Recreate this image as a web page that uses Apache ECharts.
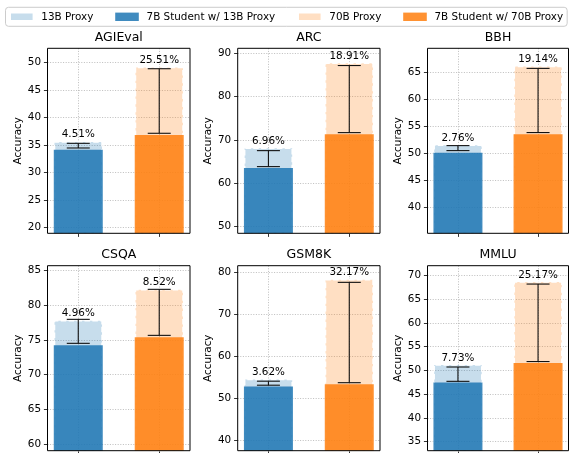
<!DOCTYPE html>
<html><head><meta charset="utf-8">
<script src="https://cdn.jsdelivr.net/npm/echarts@6/dist/echarts.min.js"></script>
<style>html,body{margin:0;padding:0;background:#fff}#c{width:571px;height:453px}</style>
</head><body><div id="c"></div>
<script>
// ---- data ----
const tasks = ['AGIEval', 'ARC', 'BBH', 'CSQA', 'GSM8K', 'MMLU'];
const proxy13 = [35.7, 68.23, 51.62, 77.9, 54.62, 51.29];
const student13 = [34.15, 63.53, 50.12, 74.23, 52.79, 47.44];
const err13Low = [34.45, 63.84, 50.5, 74.52, 53.1, 47.7];
const err13High = [35.3, 67.53, 51.43, 77.98, 54.06, 50.72];
const proxy70 = [49.27, 87.87, 66.3, 82.36, 78.49, 68.78];
const student70 = [36.82, 71.31, 53.54, 75.38, 53.35, 51.58];
const err70Low = [37.13, 71.69, 53.86, 75.67, 53.7, 51.87];
const err70High = [48.9, 87.18, 65.81, 82.31, 77.69, 68.2];
const gain13 = ['4.51%', '6.96%', '2.76%', '4.96%', '3.62%', '7.73%'];
const gain70 = ['25.51%', '18.91%', '19.14%', '8.52%', '32.17%', '25.17%'];
const yMin = [18.9, 48.44, 35.1, 59.03, 37.44, 33.08];
const yMax = [52.62, 91.16, 69.55, 85.72, 81.67, 72.07];
const yTicks = [
  [20, 25, 30, 35, 40, 45, 50],
  [50, 60, 70, 80, 90],
  [40, 45, 50, 55, 60, 65],
  [60, 65, 70, 75, 80, 85],
  [40, 50, 60, 70, 80],
  [35, 40, 45, 50, 55, 60, 65, 70]
];
const xPositions = [0, 1];
const seriesNames = ['13B Proxy', '7B Student w/ 13B Proxy', '70B Proxy', '7B Student w/ 70B Proxy'];

// ---- layout / style ----
const colLeft = [47.5, 237.7, 427.5];
const colWidth = [142.5, 142.3, 141];
const rowTop = [48.3, 265.7];
const plotH = 185;
const FONT = 'DejaVu Sans';
const C_P13 = 'rgba(31,119,180,0.25)';
const C_S13 = 'rgba(31,119,180,0.85)';
const C_P70 = 'rgba(255,127,14,0.25)';
const C_S70 = 'rgba(255,127,14,0.85)';
const gridLine = { show: true, lineStyle: { color: '#acacac', width: 0.8, type: [1, 1.6] } };

const chart = echarts.init(document.getElementById('c'), null, { renderer: 'canvas' });

const grids = [], xAxes = [], yAxes = [], titles = [], series = [];
tasks.forEach((t, i) => {
  const r = Math.floor(i / 3), c = i % 3;
  grids.push({ left: colLeft[c], top: rowTop[r], width: colWidth[c], height: plotH,
    show: true, z: 10, backgroundColor: 'transparent', borderColor: '#000', borderWidth: 1 });
  titles.push({ text: t, left: colLeft[c] + colWidth[c] / 2, top: rowTop[r] - 17.5, textAlign: 'center', padding: 0,
    textStyle: { fontSize: 12.5, fontWeight: 'normal', color: '#000', fontFamily: FONT } });
  xAxes.push({ type: 'value', gridIndex: i, min: -0.38, max: 1.38, position: 'bottom',
    axisLine: { show: false, onZero: false },
    axisTick: { show: true, customValues: xPositions, length: 3.6, lineStyle: { color: '#000', width: 0.8 } },
    axisLabel: { show: false, customValues: xPositions },
    splitLine: gridLine });
  yAxes.push({ type: 'value', gridIndex: i, min: yMin[i], max: yMax[i], position: 'left',
    name: 'Accuracy', nameLocation: 'middle', nameGap: 24,
    nameTextStyle: { fontSize: 10.4, color: '#000', fontFamily: FONT },
    axisLine: { show: false, onZero: false },
    axisTick: { show: true, customValues: yTicks[i], length: 3.6, lineStyle: { color: '#000', width: 0.8 } },
    axisLabel: { show: true, customValues: yTicks[i], margin: 6.5, fontSize: 10.4, color: '#000', fontFamily: FONT },
    splitLine: gridLine });

  const lbl = (txt) => ({ show: true, position: 'top', distance: 1.5, formatter: () => txt,
    fontSize: 10.4, color: '#000', fontFamily: FONT });
  const proxyStyle = (col) => ({ color: col, borderColor: '#fff', borderWidth: 1.5, borderType: [5.5, 2.4] });
  series.push({ type: 'bar', name: seriesNames[0], xAxisIndex: i, yAxisIndex: i, barWidth: 49, barGap: '-100%',
    data: [[xPositions[0], proxy13[i]]], itemStyle: proxyStyle(C_P13), label: lbl(gain13[i]), clip: true });
  series.push({ type: 'bar', name: seriesNames[1], xAxisIndex: i, yAxisIndex: i, barWidth: 49, barGap: '-100%',
    data: [[xPositions[0], student13[i]]], itemStyle: { color: C_S13 }, clip: true });
  series.push({ type: 'bar', name: seriesNames[2], xAxisIndex: i, yAxisIndex: i, barWidth: 49, barGap: '-100%',
    data: [[xPositions[1], proxy70[i]]], itemStyle: proxyStyle(C_P70), label: lbl(gain70[i]), clip: true });
  series.push({ type: 'bar', name: seriesNames[3], xAxisIndex: i, yAxisIndex: i, barWidth: 49, barGap: '-100%',
    data: [[xPositions[1], student70[i]]], itemStyle: { color: C_S70 }, clip: true });
  series.push({ type: 'custom', xAxisIndex: i, yAxisIndex: i, z: 5, silent: true,
    data: [[xPositions[0], err13Low[i], err13High[i]], [xPositions[1], err70Low[i], err70High[i]]],
    renderItem: (params, api) => {
      const x = api.value(0);
      const pLo = api.coord([x, api.value(1)]);
      const pHi = api.coord([x, api.value(2)]);
      const cap = 11.5;
      const st = { stroke: '#111', lineWidth: 1.1 };
      return { type: 'group', children: [
        { type: 'line', shape: { x1: pLo[0], y1: pLo[1], x2: pHi[0], y2: pHi[1] }, style: st },
        { type: 'line', shape: { x1: pLo[0] - cap, y1: pLo[1], x2: pLo[0] + cap, y2: pLo[1] }, style: st },
        { type: 'line', shape: { x1: pHi[0] - cap, y1: pHi[1], x2: pHi[0] + cap, y2: pHi[1] }, style: st }
      ] };
    } });
});

chart.setOption({
  animation: false,
  backgroundColor: '#fff',
  textStyle: { fontFamily: FONT },
  title: titles,
  legend: {
    data: seriesNames, top: 7.3, left: 5.5, width: 640, orient: 'horizontal',
    icon: 'rect', itemWidth: 23.6, itemHeight: 8.4, itemGap: 21.8,
    padding: [4.3, 4, 4.3, 3.5], borderColor: '#cccccc', borderWidth: 1, borderRadius: 3,
    backgroundColor: 'rgba(255,255,255,0.8)', selectedMode: false,
    textStyle: { fontSize: 10.4, color: '#000', fontFamily: FONT, padding: [0, 0, 0, 2.7] }
  },
  grid: grids, xAxis: xAxes, yAxis: yAxes, series: series
});
</script></body></html>
